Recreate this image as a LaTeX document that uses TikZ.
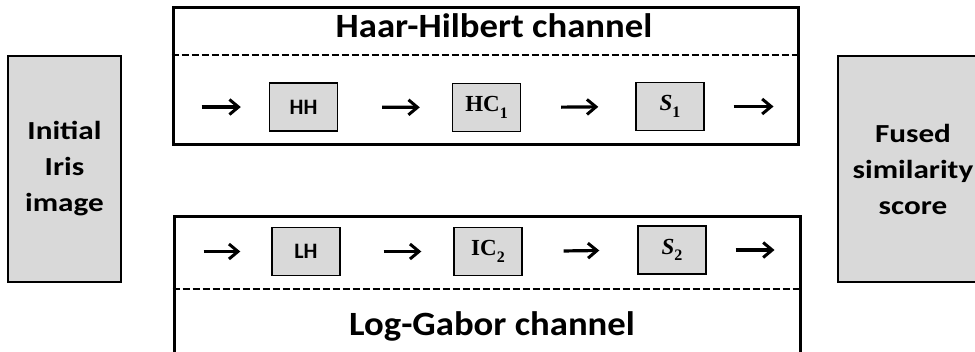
\documentclass[tikz,border=0pt]{standalone}
\usepackage{fontspec}
\setmainfont{Carlito}
\newfontfamily\labelserif{Liberation Serif}
\newfontfamily\widesans[FakeStretch=1.2]{Carlito}
\newfontfamily\titlesans[FakeStretch=1.08]{Carlito}
\usetikzlibrary{arrows.meta}
\definecolor{boxgray}{HTML}{D9D9D9}
% bold serif label with a lowered upright index
\newcommand{\stagelabel}[2]{{\labelserif\bfseries #1\raisebox{-0.28em}{\upshape\fontsize{16}{18}\selectfont #2}}}
\tikzset{
  sidebox/.style={draw=black, line width=1.6pt, fill=boxgray, inner sep=0pt,
    align=center, font=\widesans\bfseries\fontsize{26}{36}\selectfont},
  stagebox/.style={draw=black, line width=1.4pt, fill=boxgray, inner sep=0pt,
    minimum width=68pt, minimum height=48pt},
  channel/.style={draw=black, line width=3pt, inner sep=0pt},
  divider/.style={line width=2pt, dash pattern=on 7pt off 3pt},
  chtitle/.style={font=\titlesans\bfseries\fontsize{34}{40}\selectfont, anchor=base, inner sep=0pt},
  flow/.style={line width=3.2pt, -{Straight Barb[length=9pt,width=15pt,line width=3pt]}},
  stagefont/.style={font=\bfseries\fontsize{22}{24}\selectfont},
  seriffont/.style={font=\fontsize{23}{26}\selectfont},
}
\begin{document}
\begin{tikzpicture}[x=1pt,y=-1pt]
\useasboundingbox (0,0) rectangle (975,351);
\clip (0,0) rectangle (975,351);

% input and output blocks
\node[sidebox, minimum width=113pt, minimum height=226pt] (init) at (64.5,169) {Initial\\Iris\\image};
\node[sidebox, minimum width=150pt, minimum height=226pt] (fused) at (913,169) {Fused\\similarity\\score};

% Haar-Hilbert channel frame
\node[channel, minimum width=625pt, minimum height=137pt] (hhch) at (485.5,75.5) {};
\draw[divider] ([yshift=-49pt]hhch.north west) -- ([yshift=-49pt]hhch.north east);
\node[chtitle] (hhtitle) at (494,37) {Haar-Hilbert channel};

% Log-Gabor channel frame (runs past the lower edge)
\node[channel, minimum width=626pt, minimum height=184pt] (lgch) at (487,308) {};
\draw[divider] ([yshift=-74pt]lgch.north west) -- ([yshift=-74pt]lgch.north east);
\node[chtitle] (lgtitle) at (492,335) {Log-Gabor channel};

% stages of the upper channel
\node[stagebox, stagefont] (hh) at (303.5,107) {HH};
\node[stagebox, seriffont] (hc) at (486.5,107.5) {\stagelabel{HC}{1}};
\node[stagebox, seriffont] (s1) at (670,106.5) {\stagelabel{\itshape S}{1}};

% stages of the lower channel
\node[stagebox, stagefont] (lh) at (306,251.5) {LH};
\node[stagebox, seriffont] (ic) at (488,251.5) {\stagelabel{IC}{2}};
\node[stagebox, seriffont] (s2) at (672,250) {\stagelabel{\itshape S}{2}};

% flow arrows, upper channel
\draw[flow, shorten <=30pt, shorten >=28pt] (hhch.west |- hh.west) -- (hh.west);
\draw[flow, shorten <=44pt, shorten >=32pt] (hh.east) -- (hc.west);
\draw[flow, shorten <=40pt, shorten >=37pt] (hc.east) -- (s1.west);
\draw[flow, shorten <=29pt, shorten >=26pt] (s1.east) -- (hhch.east |- s1.east);

% flow arrows, lower channel
\draw[flow, shorten <=31pt, shorten >=31pt] (lgch.west |- lh.west) -- (lh.west);
\draw[flow, shorten <=43pt, shorten >=32pt] (lh.east) -- (ic.west);
\draw[flow, shorten <=41pt, shorten >=38pt] (ic.east) -- (s2.west);
\draw[flow, shorten <=29pt, shorten >=27pt] (s2.east) -- (lgch.east |- s2.east);
\end{tikzpicture}
\end{document}
